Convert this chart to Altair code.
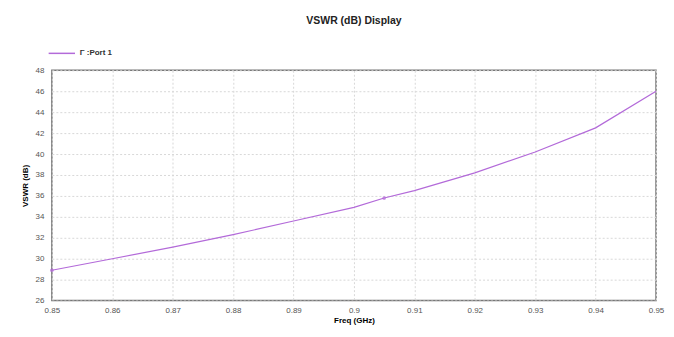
import altair as alt
import pandas as pd

freq = [0.85, 0.86, 0.87, 0.88, 0.89, 0.90, 0.905, 0.91, 0.92, 0.93, 0.94, 0.95]
vswr = [28.9, 30.0, 31.1, 32.3, 33.6, 34.9, 35.8, 36.5, 38.2, 40.2, 42.5, 46.0]
marker_freq = [0.85, 0.905]
marker_vswr = [28.9, 35.8]
series = "Γ :Port 1"

df = pd.DataFrame({"freq": freq, "vswr": vswr, "series": series})
dm = pd.DataFrame({"freq": marker_freq, "vswr": marker_vswr, "series": series})

color = "#b36ad9"

x = alt.X("freq:Q", title="Freq (GHz)",
          scale=alt.Scale(domain=[0.85, 0.95], nice=False, zero=False),
          axis=alt.Axis(values=[0.85, 0.86, 0.87, 0.88, 0.89, 0.9, 0.91, 0.92, 0.93, 0.94, 0.95],
                        format="~g", labelFontSize=8, labelColor="#555", labelOverlap=False,
                        labelFlush=False,
                        titleFontSize=8, titleFontWeight="bold", titlePadding=2,
                        tickSize=0, labelPadding=6, domain=False,
                        gridColor="#d8d8d8", gridDash=[2, 2]))
y = alt.Y("vswr:Q", title="VSWR (dB)",
          scale=alt.Scale(domain=[26, 48], nice=False, zero=False),
          axis=alt.Axis(values=list(range(26, 49, 2)), labelFontSize=8, labelColor="#555",
                        labelOverlap=False, labelFlush=False,
                        titleFontSize=8, titleFontWeight="bold", titlePadding=6,
                        tickSize=0, labelPadding=8, domain=False,
                        gridColor="#d8d8d8", gridDash=[2, 2]))

col = alt.Color("series:N", scale=alt.Scale(range=[color]),
                legend=alt.Legend(title=None, orient="none", legendX=-4, legendY=-31,
                                  symbolType="stroke", symbolSize=700, symbolStrokeWidth=1.5,
                                  labelFontSize=8, labelFontWeight="bold", labelColor="#333"))

line = alt.Chart(df).mark_line(strokeWidth=1.2).encode(x=x, y=y, color=col)
pts = alt.Chart(dm).mark_point(filled=True, size=14, color=color).encode(x=x, y=y)

chart = alt.layer(line, pts).properties(
    width=606, height=231,
    autosize=alt.AutoSizeParams(type="none"),
    padding={"left": 44, "top": 62, "right": 10, "bottom": 28},
    title=alt.TitleParams("VSWR (dB) Display", fontSize=10.5, fontWeight="bold",
                          font="Liberation Sans", color="#222", offset=13, anchor="middle"),
).configure(font="Liberation Sans").configure_view(stroke="#777", strokeWidth=1.5)

chart.save("out.html", embed_options={"renderer": "svg", "actions": False})
